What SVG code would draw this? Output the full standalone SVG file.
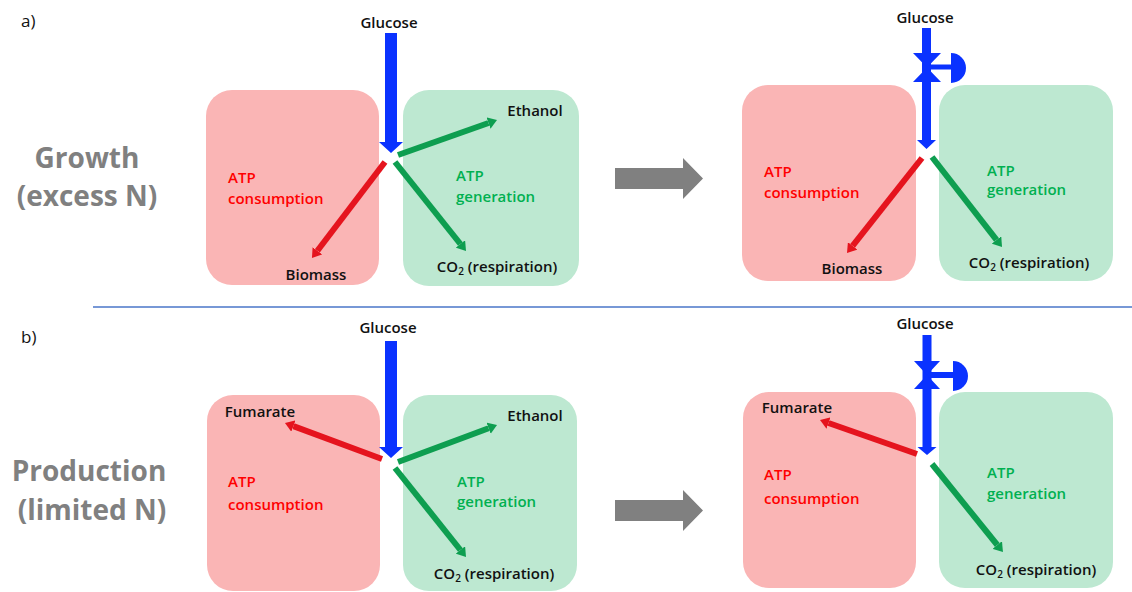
<svg xmlns="http://www.w3.org/2000/svg" width="1132" height="592" viewBox="0 0 1132 592">
<style>
.pink{fill:#fab5b5}
.green{fill:#bde8d1}
.lbl{font-family:"Open Sans","Liberation Sans",sans-serif;font-weight:600;font-size:15px;fill:#111}
.red{font-family:"Open Sans","Liberation Sans",sans-serif;font-weight:600;font-size:15px;fill:#ff0000}
.grn{font-family:"Open Sans","Liberation Sans",sans-serif;font-weight:600;font-size:15px;fill:#00b050}
.big{font-family:"Open Sans","Liberation Sans",sans-serif;font-weight:700;font-size:28px;fill:#808080}
.tag{font-family:"Open Sans","Liberation Sans",sans-serif;font-weight:400;font-size:17px;fill:#111}
.blue{fill:#0a32ff}
.ra{stroke:#e5141e;stroke-width:6;fill:none;marker-end:url(#mr)}
.ga{stroke:#0e9e50;stroke-width:6;fill:none;marker-end:url(#mg)}
.gray{fill:#808080}
</style>
<defs>
<marker id="mr" markerWidth="1.5" markerHeight="2" refX="0" refY="1" orient="auto" markerUnits="strokeWidth" viewBox="0 0 1.5 2"><path d="M0,0 L1.5,1 L0,2 z" fill="#e5141e"/></marker>
<marker id="mg" markerWidth="1.5" markerHeight="2" refX="0" refY="1" orient="auto" markerUnits="strokeWidth" viewBox="0 0 1.5 2"><path d="M0,0 L1.5,1 L0,2 z" fill="#0e9e50"/></marker>
</defs>
<rect width="1132" height="592" fill="#fff"/>

<g id="labels">
<text class="tag" x="21" y="27">a)</text>
<text class="tag" x="21" y="343">b)</text>
<text class="big" x="87" y="168" text-anchor="middle">Growth</text>
<text class="big" x="87" y="206" text-anchor="middle">(excess N)</text>
<text class="big" x="89" y="481" text-anchor="middle">Production</text>
<text class="big" x="92" y="520" text-anchor="middle">(limited N)</text>
</g>

<line id="separator" x1="93" y1="307" x2="1132" y2="307" stroke="#4a76c8" stroke-width="1.5"/>

<!-- Panel a left -->
<g id="a-consumption">
<rect class="pink" x="206" y="90" width="173" height="195" rx="26"/>
<text class="red" x="228" y="183">ATP</text>
<text class="red" x="228" y="204">consumption</text>
<text class="lbl" x="316" y="280" text-anchor="middle">Biomass</text>
</g>
<g id="a-generation">
<rect class="green" x="403" y="90" width="176" height="196" rx="26"/>
<text class="grn" x="456" y="181">ATP</text>
<text class="grn" x="456" y="202">generation</text>
<text class="lbl" x="535" y="116" text-anchor="middle">Ethanol</text>
<text class="lbl" x="497" y="272" text-anchor="middle">CO<tspan font-size="10" dy="3">2</tspan><tspan dy="-3"> (respiration)</tspan></text>
</g>
<g id="a-glucose">
<text class="lbl" x="389" y="28" text-anchor="middle">Glucose</text>
</g>

<!-- Panel a right -->
<g id="a2-consumption">
<rect class="pink" x="742" y="85" width="174" height="196" rx="26"/>
<text class="red" x="764" y="177">ATP</text>
<text class="red" x="764" y="198">consumption</text>
<text class="lbl" x="852" y="274" text-anchor="middle">Biomass</text>
</g>
<g id="a2-generation">
<rect class="green" x="939" y="85" width="174" height="196" rx="26"/>
<text class="grn" x="987" y="176">ATP</text>
<text class="grn" x="987" y="195">generation</text>
<text class="lbl" x="1029" y="268" text-anchor="middle">CO<tspan font-size="10" dy="3">2</tspan><tspan dy="-3"> (respiration)</tspan></text>
</g>
<g id="a2-glucose">
<text class="lbl" x="925" y="23" text-anchor="middle">Glucose</text>
</g>

<!-- Panel b left -->
<g id="b-consumption">
<rect class="pink" x="207" y="395" width="173" height="196" rx="26"/>
<text class="red" x="228" y="487">ATP</text>
<text class="red" x="228" y="510">consumption</text>
<text class="lbl" x="260" y="417" text-anchor="middle">Fumarate</text>
</g>
<g id="b-generation">
<rect class="green" x="403" y="395" width="174" height="196" rx="26"/>
<text class="grn" x="457" y="487">ATP</text>
<text class="grn" x="457" y="507">generation</text>
<text class="lbl" x="535" y="421" text-anchor="middle">Ethanol</text>
<text class="lbl" x="494" y="579" text-anchor="middle">CO<tspan font-size="10" dy="3">2</tspan><tspan dy="-3"> (respiration)</tspan></text>
</g>
<g id="b-glucose">
<text class="lbl" x="388" y="333" text-anchor="middle">Glucose</text>
</g>

<!-- Panel b right -->
<g id="b2-consumption">
<rect class="pink" x="743" y="392" width="173" height="196" rx="26"/>
<text class="red" x="764" y="480">ATP</text>
<text class="red" x="764" y="504">consumption</text>
<text class="lbl" x="797" y="413" text-anchor="middle">Fumarate</text>
</g>
<g id="b2-generation">
<rect class="green" x="939" y="392" width="174" height="196" rx="26"/>
<text class="grn" x="987" y="478">ATP</text>
<text class="grn" x="987" y="499">generation</text>
<text class="lbl" x="1036" y="575" text-anchor="middle">CO<tspan font-size="10" dy="3">2</tspan><tspan dy="-3"> (respiration)</tspan></text>
</g>
<g id="b2-glucose">
<text class="lbl" x="925" y="329" text-anchor="middle">Glucose</text>
</g>

<g id="connectors">
<!-- blue glucose arrows -->
<polygon class="blue" points="385,33 397,33 397,142 403,142 391,153 379,142 385,142"/>
<polygon class="blue" points="385,341 397,341 397,447 403,447 391,458 379,447 385,447"/>
<polygon class="blue" points="922,28 931,28 931,140 936,140 926.5,149 917,140 922,140"/>
<polygon class="blue" points="922.5,335 931.5,335 931.5,447 936.5,447 927,455 917.5,447 922.5,447"/>
<!-- valves -->
<g id="valve-a" class="blue">
<polygon points="913,53 941,53 927,67.5 941,82 913,82 927,67.5"/>
<rect x="931" y="64.5" width="21" height="5"/>
<path d="M951,53 A15,15 0 0 1 951,83 Z"/>
</g>
<g id="valve-b" class="blue">
<polygon points="914,361 940,361 927,375 940,389 914,389 927,375"/>
<rect x="931" y="372" width="23" height="6"/>
<path d="M953,361 A15,15 0 0 1 953,391 Z"/>
</g>
<!-- red/green flux arrows -->
<line class="ga" x1="398" y1="155" x2="488.5" y2="123"/>
<line class="ga" x1="395" y1="162" x2="460.4" y2="244"/>
<line class="ra" x1="385" y1="162" x2="317.4" y2="250.8"/>
<line class="ra" x1="922" y1="158" x2="852.6" y2="245.9"/>
<line class="ga" x1="932" y1="157" x2="996.5" y2="239.9"/>
<line class="ra" x1="382" y1="459" x2="293.4" y2="426.1"/>
<line class="ga" x1="398" y1="462" x2="488.6" y2="428.2"/>
<line class="ga" x1="395" y1="468" x2="460.4" y2="550"/>
<line class="ra" x1="917" y1="454" x2="828.5" y2="423"/>
<line class="ga" x1="932" y1="464" x2="997.3" y2="545"/>
<!-- transition arrows -->
<polygon class="gray" points="615,168 683,168 683,158 703,178.5 683,199 683,189 615,189"/>
<polygon class="gray" points="615,500 683,500 683,490 703,510.5 683,531 683,521 615,521"/>
</g>
</svg>
